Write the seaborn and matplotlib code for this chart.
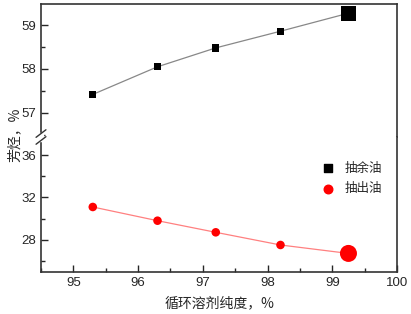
import matplotlib
matplotlib.use("Agg")
import matplotlib.pyplot as plt
import seaborn as sns
import pandas as pd

# Data
purity = [95.3, 96.3, 97.2, 98.2, 99.25]
raffinate = [57.42, 58.05, 58.48, 58.86, 59.27]   # 抽余油
extract = [31.1, 29.8, 28.7, 27.5, 26.7]          # 抽出油
marker_big = [False, False, False, False, True]

df = pd.DataFrame({"purity": purity, "raffinate": raffinate,
                   "extract": extract, "big": marker_big})

sns.set_style("ticks")
plt.rcParams['font.family'] = ['Liberation Sans', 'Noto Sans CJK SC', 'DejaVu Sans']
plt.rcParams['axes.edgecolor'] = '#333333'

fig = plt.figure(figsize=(4.11, 3.14), dpi=100)
left, right = 41 / 411, 397 / 411
y_top, y_brk, y_bot = 1 - 4 / 314, 1 - 137 / 314, 1 - 272 / 314
ax_up = fig.add_axes([left, y_brk, right - left, y_top - y_brk])
ax_lo = fig.add_axes([left, y_bot, right - left, y_brk - y_bot], sharex=ax_up)

# upper part: raffinate
sns.lineplot(data=df, x="purity", y="raffinate", ax=ax_up, color="#888888", lw=0.9)
sns.scatterplot(data=df, x="purity", y="raffinate", size="big", sizes={False: 28, True: 110},
                marker="s", color="black", edgecolor="none", ax=ax_up, legend=False, zorder=3)
# lower part: extract
sns.lineplot(data=df, x="purity", y="extract", ax=ax_lo, color="#ff8080", lw=0.9)
sns.scatterplot(data=df, x="purity", y="extract", size="big", sizes={False: 38, True: 150},
                marker="o", color="red", edgecolor="none", ax=ax_lo, legend=False, zorder=3)

ax_up.set_xlim(94.5, 100)
ax_up.set_ylim(56.45, 59.48)
ax_lo.set_ylim(24.94, 37.73)
ax_up.set_yticks([57, 58, 59])
ax_up.set_yticks([56.5, 57.5, 58.5], minor=True)
ax_lo.set_yticks([28, 32, 36])
ax_lo.set_yticks([26, 30, 34], minor=True)
ax_lo.set_xticks([95, 96, 97, 98, 99, 100])
ax_lo.set_xticks([94.5, 95.5, 96.5, 97.5, 98.5, 99.5], minor=True)

for ax in (ax_up, ax_lo):
    ax.tick_params(which="both", direction="in", labelsize=9.5, right=False, top=False)
    ax.tick_params(which="major", length=5, width=1)
    ax.tick_params(which="minor", length=3, width=1)
    for s in ax.spines.values():
        s.set_linewidth(1.2)
    ax.set_xlabel("")
    ax.set_ylabel("")

ax_up.spines["bottom"].set_visible(False)
ax_lo.spines["top"].set_visible(False)
ax_up.tick_params(axis="x", which="both", bottom=False, labelbottom=False)

# break marks on left spine
fig.add_artist(plt.Rectangle((left - 0.004, y_brk - 0.012), 0.008, 0.024, color="white",
                             transform=fig.transFigure, zorder=5))
for dy in (-0.011, 0.011):
    fig.add_artist(plt.Line2D([left - 0.012, left + 0.012], [y_brk + dy - 0.012, y_brk + dy + 0.012],
                              color="#333333", lw=1.0, transform=fig.transFigure, zorder=6))

# legend
ax_lo.scatter([], [], marker="s", color="black", s=28, label="抽余油")
ax_lo.scatter([], [], marker="o", color="red", s=38, label="抽出油")
ax_lo.legend(loc="upper right", bbox_to_anchor=(0.99, 0.9), frameon=False,
             prop={"family": ["Noto Sans CJK SC"], "size": 9}, handletextpad=0.3,
             labelspacing=0.6)

fig.text(0.5 * (left + right), 1 - 303 / 314, "循环溶剂纯度，%", ha="center", va="center",
         fontsize=10, family=["Noto Sans CJK SC", "DejaVu Sans"])
fig.text(15 / 411, 1 - 135 / 314, "芳烃，%", rotation=90, ha="center", va="center",
         fontsize=10, family=["Noto Sans CJK SC", "DejaVu Sans"])

fig.savefig("out.png", dpi=100)
